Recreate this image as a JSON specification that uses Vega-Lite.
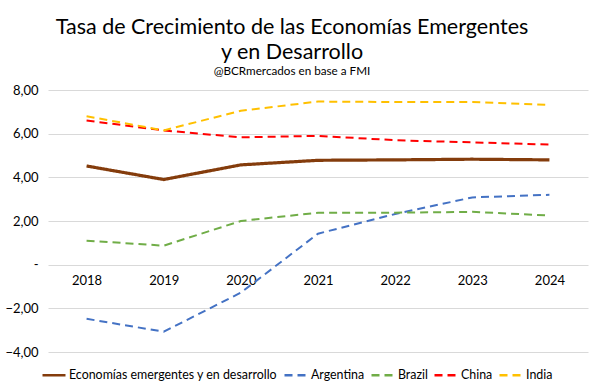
{
  "$schema": "https://vega.github.io/schema/vega-lite/v6.json",
  "width": 540,
  "height": 262,
  "autosize": {"type": "none"},
  "padding": {"left": 48, "top": 90, "right": 9, "bottom": 38},
  "background": "white",
  "config": {
    "font": "Lato",
    "view": {"stroke": null}
  },
  "title": {
    "text": ["Tasa de Crecimiento de las Economías Emergentes", "y en Desarrollo"],
    "subtitle": "@BCRmercados en base a FMI",
    "font": "Lato",
    "subtitleFont": "Lato",
    "fontSize": 21.5,
    "fontWeight": "normal",
    "lineHeight": 25,
    "subtitleFontSize": 11.7,
    "subtitleColor": "#000000",
    "subtitlePadding": 3,
    "color": "#000000",
    "anchor": "middle",
    "dx": -26,
    "offset": 6
  },
  "data": {
    "values": [
      {"year": "2018", "series": "Economías emergentes y en desarrollo", "value": 4.52},
      {"year": "2019", "series": "Economías emergentes y en desarrollo", "value": 3.9},
      {"year": "2020", "series": "Economías emergentes y en desarrollo", "value": 4.57},
      {"year": "2021", "series": "Economías emergentes y en desarrollo", "value": 4.78},
      {"year": "2022", "series": "Economías emergentes y en desarrollo", "value": 4.8},
      {"year": "2023", "series": "Economías emergentes y en desarrollo", "value": 4.83},
      {"year": "2024", "series": "Economías emergentes y en desarrollo", "value": 4.8},
      {"year": "2018", "series": "Argentina", "value": -2.48},
      {"year": "2019", "series": "Argentina", "value": -3.07},
      {"year": "2020", "series": "Argentina", "value": -1.28},
      {"year": "2021", "series": "Argentina", "value": 1.42},
      {"year": "2022", "series": "Argentina", "value": 2.32},
      {"year": "2023", "series": "Argentina", "value": 3.08},
      {"year": "2024", "series": "Argentina", "value": 3.2},
      {"year": "2018", "series": "Brazil", "value": 1.1},
      {"year": "2019", "series": "Brazil", "value": 0.87},
      {"year": "2020", "series": "Brazil", "value": 2.0},
      {"year": "2021", "series": "Brazil", "value": 2.38},
      {"year": "2022", "series": "Brazil", "value": 2.38},
      {"year": "2023", "series": "Brazil", "value": 2.42},
      {"year": "2024", "series": "Brazil", "value": 2.25},
      {"year": "2018", "series": "China", "value": 6.6},
      {"year": "2019", "series": "China", "value": 6.15},
      {"year": "2020", "series": "China", "value": 5.83},
      {"year": "2021", "series": "China", "value": 5.9},
      {"year": "2022", "series": "China", "value": 5.7},
      {"year": "2023", "series": "China", "value": 5.6},
      {"year": "2024", "series": "China", "value": 5.5},
      {"year": "2018", "series": "India", "value": 6.8},
      {"year": "2019", "series": "India", "value": 6.15},
      {"year": "2020", "series": "India", "value": 7.05},
      {"year": "2021", "series": "India", "value": 7.47},
      {"year": "2022", "series": "India", "value": 7.45},
      {"year": "2023", "series": "India", "value": 7.45},
      {"year": "2024", "series": "India", "value": 7.32}
    ]
  },
  "mark": {"type": "line", "interpolate": "linear"},
  "encoding": {
    "x": {
      "field": "year",
      "type": "ordinal",
      "scale": {"padding": 0.5},
      "axis": {
        "title": null,
        "labelAngle": 0,
        "offset": -88,
        "domain": false,
        "ticks": false,
        "grid": false,
        "labelPadding": 10,
        "labelFontSize": 13,
        "labelColor": "#000000",
        "labelFont": "Lato"
      }
    },
    "y": {
      "field": "value",
      "type": "quantitative",
      "scale": {"domain": [-4, 8], "nice": false, "zero": false},
      "axis": {
        "title": null,
        "values": [-4, -2, 0, 2, 4, 6, 8],
        "labelExpr": "datum.value == 0 ? '-' : replace(format(datum.value, '.2f'), '.', ',')",
        "domain": false,
        "ticks": false,
        "grid": true,
        "gridColor": "#D9D9D9",
        "gridWidth": 1,
        "labelPadding": 10,
        "labelFontSize": 13,
        "labelColor": "#000000",
        "labelFont": "Lato"
      }
    },
    "color": {
      "field": "series",
      "type": "nominal",
      "sort": ["Economías emergentes y en desarrollo", "Argentina", "Brazil", "China", "India"],
      "scale": {
        "domain": ["Economías emergentes y en desarrollo", "Argentina", "Brazil", "China", "India"],
        "range": ["#843C0C", "#4472C4", "#70AD47", "#FF0000", "#FFC000"]
      },
      "legend": {
        "title": null,
        "orient": "none",
        "direction": "horizontal",
        "legendX": -7,
        "legendY": 272,
        "symbolType": "stroke",
        "symbolSize": 529,
        "symbolStrokeWidth": 2.5,
        "labelFontSize": 12.4,
        "labelColor": "#000000",
        "labelFont": "Lato",
        "labelLimit": 0,
        "columnPadding": 1,
        "labelOffset": 2
      }
    },
    "strokeDash": {
      "field": "series",
      "type": "nominal",
      "sort": ["Economías emergentes y en desarrollo", "Argentina", "Brazil", "China", "India"],
      "scale": {
        "domain": ["Economías emergentes y en desarrollo", "Argentina", "Brazil", "China", "India"],
        "range": [[1, 0], [8, 5], [8, 5], [8, 5], [8, 5]]
      },
      "legend": {
        "title": null,
        "orient": "none",
        "direction": "horizontal",
        "legendX": -7,
        "legendY": 272,
        "symbolType": "stroke",
        "symbolSize": 529,
        "symbolStrokeWidth": 2.5,
        "labelFontSize": 12.4,
        "labelColor": "#000000",
        "labelFont": "Lato",
        "labelLimit": 0,
        "columnPadding": 1,
        "labelOffset": 2
      }
    },
    "strokeWidth": {
      "condition": {"test": "datum.series == 'Economías emergentes y en desarrollo'", "value": 3.2},
      "value": 2
    }
  }
}
